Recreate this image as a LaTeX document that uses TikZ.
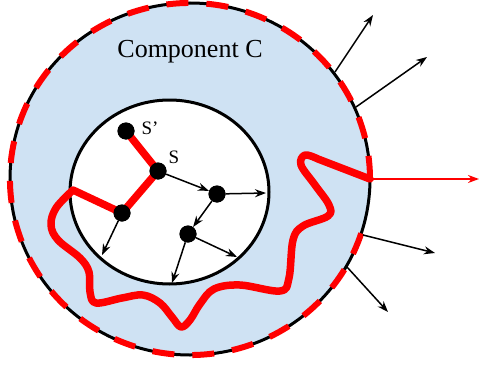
\documentclass[tikz,border=0pt]{standalone}
\usepackage{fontspec}
\setmainfont{Liberation Serif}
\usetikzlibrary{arrows.meta}
\definecolor{compblue}{RGB}{207,226,243}
\begin{document}
\begin{tikzpicture}[x=1pt,y=-1pt,
  dot/.style={circle,fill=black,inner sep=0pt,minimum size=17pt},
  arr/.style={-{Stealth[length=11pt,width=8pt]},line width=1.5pt},
  redarr/.style={red,-{Stealth[length=11pt,width=8pt]},line width=1.8pt},
  redline/.style={red,line width=7.5pt,line join=round,line cap=round},
  ring/.style={line width=3pt},
  lbl/.style={font=\fontsize{19}{21}\selectfont,inner sep=0pt}]
\useasboundingbox (0,0) rectangle (479,364);
% outer component
\fill[compblue] (190,179) ellipse [x radius=180, y radius=176];
\draw[ring] (190,179) ellipse [x radius=180, y radius=176];
\draw[red,line width=6pt,dash pattern=on 22pt off 18pt]
  (190,179) ++(18:180 and 176) arc[start angle=18,end angle=360,x radius=180,y radius=176];
\node[font=\fontsize{26}{30}\selectfont] (title) at (190,52) {Component C};
% inner region
\draw[ring,fill=white] (169.5,192) ellipse [x radius=99.5, y radius=92];
% dots
\node[dot] (sp) at (126,131) {};
\node[dot] (s) at (158,171) {};
\node[dot] (a) at (122,213) {};
\node[dot] (b) at (217,194) {};
\node[dot] (c) at (188,234) {};
\node[lbl] (lsp) at (150,128) {S’};
\node[lbl] (ls) at (174,157) {S};
% coordinates
\coordinate (l) at (73,190);
\coordinate (ex) at (370,179);
\coordinate (e1) at (266,193);
\coordinate (e2) at (102,255);
\coordinate (e3) at (172,283);
\coordinate (e4) at (237,257);
\coordinate (o1) at (335,72);
\coordinate (t1) at (373,15);
\coordinate (o2) at (356,107);
\coordinate (t2) at (427,57);
\coordinate (t3) at (479,179);
\coordinate (o4) at (363,235);
\coordinate (t4) at (435,253);
\coordinate (o5) at (347,267);
\coordinate (t5) at (388,312);
% red tree path
\draw[redline,line cap=butt] (sp.center) -- (s.center) -- (a.center) -- (l);
\draw[redline] plot[smooth,tension=0.6] coordinates {(l) (56,208) (51,225) (58,240) (80,258) (89,272) (90,292) (96,303) (122,298) (143,295) (160,303) (172,317) (181,327) (190,320) (200,304) (214,289) (240,285) (280,291) (289,278) (293,240) (303,226) (328,216) (329,205) (315,185) (301,165) (305,155) (318,159)} -- (ex);
% arrows inside
\draw[arr] (s) -- (b);
\draw[arr] (b) -- (e1);
\draw[arr] (b) -- (c);
\draw[arr] (a) -- (e2);
\draw[arr] (c) -- (e3);
\draw[arr] (c) -- (e4);
% redraw dots over arrows
\foreach \n in {sp,s,a,b,c} \fill (\n.center) circle (8.5);
% outgoing arrows
\draw[arr] (o1) -- (t1);
\draw[arr] (o2) -- (t2);
\draw[redarr] (ex) -- (t3);
\draw[arr] (o4) -- (t4);
\draw[arr] (o5) -- (t5);
\end{tikzpicture}
\end{document}
